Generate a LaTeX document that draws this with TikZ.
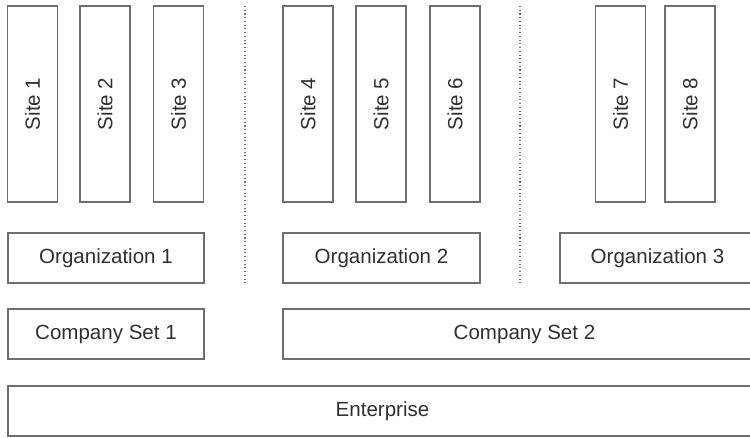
\documentclass[tikz,border=0pt]{standalone}
\usepackage{fontspec}
\setmainfont{Liberation Sans}
\usetikzlibrary{shadows}

\definecolor{linegray}{HTML}{6E6E6E}
\definecolor{textgray}{HTML}{303030}

\tikzset{
	box/.style={draw=linegray,line width=0.9pt,fill=white,inner sep=0pt,
	            text=textgray,font=\fontsize{15.4}{18}\selectfont,
	            drop shadow={shadow xshift=0.7pt,shadow yshift=-0.7pt,
	                         fill=black!30,opacity=1}},
	sitebox/.style={box,minimum width=37.5pt,minimum height=147pt},
	rowbox/.style={box,minimum height=37.5pt},
	divider/.style={draw=linegray,dotted,line width=0.8pt}
}

\begin{document}
\begin{tikzpicture}[x=0.75pt,y=-0.75pt]
	
	\def\picw{750}
	\def\pich{438}
	
	\useasboundingbox (0,0) rectangle (\picw,\pich);
	\clip (0,0) rectangle (\picw,\pich);
	
	% The sites, standing upright
	\foreach \i/\cx in {1/32.5,2/105,3/178.5,4/308,5/381,6/455,7/620.5,8/690}{
		\node [sitebox] (site\i) at (\cx,104) {\rotatebox{90}{Site \i}};
	}
	
	% The dividers between the organizations
	\coordinate (div1top) at (245,6);
	\coordinate (div1bot) at (245,283);
	\coordinate (div2top) at (520,6);
	\coordinate (div2bot) at (520,283);
	\draw [divider] (div1top) -- (div1bot);
	\draw [divider] (div2top) -- (div2bot);
	
	% The organizations
	\node [rowbox,minimum width=147pt] (org1) at (106,258) {Organization 1};
	\node [rowbox,minimum width=147.75pt] (org2) at (381.5,258) {Organization 2};
	\node [rowbox,minimum width=146.25pt] (org3) at (657.5,258) {Organization 3};
	
	% The company sets
	\node [rowbox,minimum width=147pt] (cset1) at (106,334) {Company Set 1};
	\node [rowbox,minimum width=362.25pt] (cset2) at (524.5,334) {Company Set 2};
	
	% The enterprise
	\node [rowbox,minimum width=561.75pt] (ent) at (382.5,411) {Enterprise};
	
\end{tikzpicture}
\end{document}
